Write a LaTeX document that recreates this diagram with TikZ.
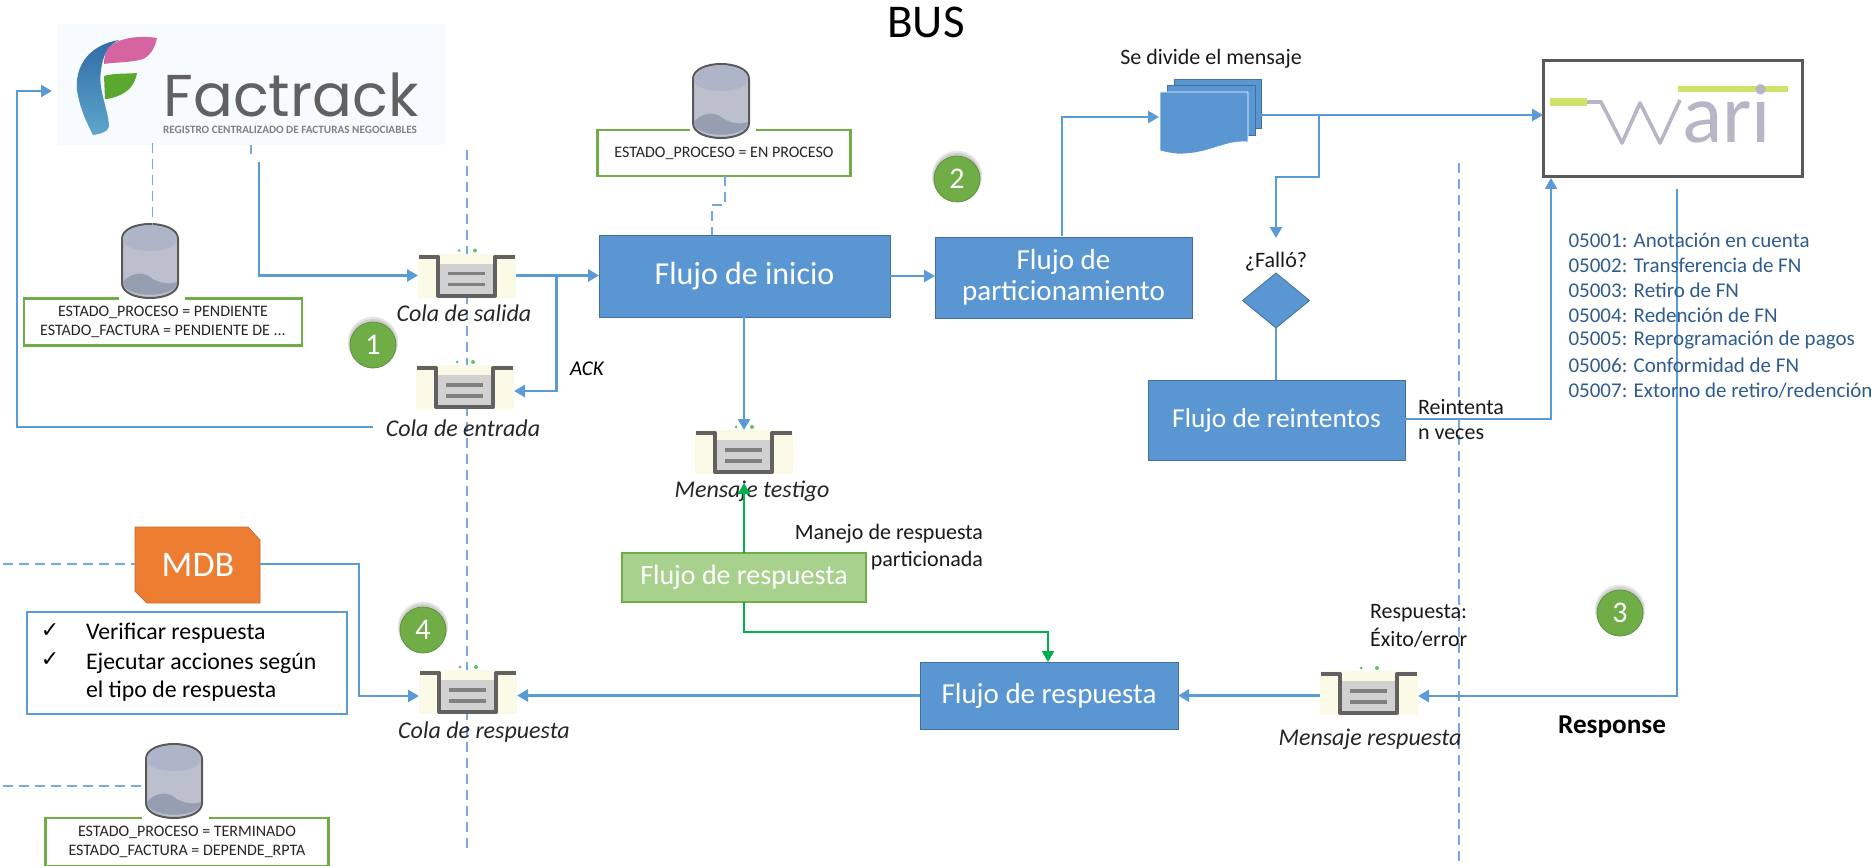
\documentclass[tikz,border=0pt]{standalone}
\usepackage{fontspec}
\setmainfont{Carlito}
\newfontfamily\logofont{Poppins}
\newfontfamily\symfont{DejaVu Sans}
\usetikzlibrary{arrows.meta,shapes.geometric,calc}
\definecolor{flowblue}{HTML}{5B9BD5}
\definecolor{boxblue}{HTML}{5A97D2}
\definecolor{edgeblue}{HTML}{41719C}
\definecolor{stategreen}{HTML}{70AD47}
\definecolor{arrowgreen}{HTML}{00B050}
\definecolor{softgreen}{HTML}{A9D18E}
\definecolor{mdborange}{HTML}{ED7D31}
\definecolor{codeblue}{HTML}{2F5C8F}
\definecolor{creamq}{HTML}{FBFAE6}
\definecolor{logoback}{HTML}{F8FBFE}
\definecolor{lilac}{HTML}{B9B5C6}
\definecolor{limebar}{HTML}{CFE36A}
\definecolor{dbbody}{HTML}{BCC0CC}
\definecolor{dbtop}{HTML}{AEB5C8}
\definecolor{dbwave}{HTML}{969EB2}
\definecolor{logopink}{HTML}{D565A0}
\definecolor{logogreen}{HTML}{5BA82E}
\definecolor{logoblueA}{HTML}{2E6CA8}
\definecolor{logoblueB}{HTML}{5FA6CC}
\tikzset{
  x=0.5pt,y=-0.5pt,
  every node/.style={inner sep=0pt,outer sep=0pt,font=\fontsize{10}{12}\selectfont},
  flow/.style={draw=flowblue,line width=1.35pt,-{Triangle[length=5.5pt,width=6pt]}},
  flowplain/.style={draw=flowblue,line width=1.35pt},
  greenflow/.style={draw=arrowgreen,line width=1.15pt,-{Triangle[length=5.5pt,width=6pt]}},
  dashline/.style={draw=flowblue!85,line width=0.8pt,dash pattern=on 5pt off 3pt},
  flowbox/.style={fill=boxblue,draw=edgeblue,line width=0.5pt,text=white,align=center,font=\fontsize{14.5}{16}\selectfont},
  statebox/.style={draw=stategreen,line width=1.3pt,fill=white},
  statetext/.style={align=center,font=\fontsize{8}{9.6}\selectfont,text=black!85},
  qlabel/.style={font=\fontsize{12}{14}\selectfont\itshape,text=black!85},
  plainlabel/.style={font=\fontsize{11}{13}\selectfont,text=black!90},
  codeline/.style={anchor=west,font=\fontsize{10.5}{13}\selectfont,text=codeblue},
  stepmark/.style={circle,fill=stategreen,draw=stategreen!85!black,line width=0.4pt,minimum size=23pt,text=white,font=\fontsize{15}{18}\selectfont},
  queuenode/.style={fill=creamq,minimum width=49pt,minimum height=22pt},
  dbnode/.style={minimum width=28.5pt,minimum height=36pt},
  queueicon/.pic={
    \fill[green!60!black!60] (-8,-25) circle (1.5) (8,-25) circle (2);
    \fill[black!18] (-27,-12) rectangle (27,20);
    \draw[black!62,line width=2pt,line join=round] (-48,-19) -- (-29,-19) -- (-29,20) -- (28,20) -- (28,-19) -- (48,-19);
    \draw[black!50,line width=1.6pt] (-19,-2) -- (18,-2) (-19,9) -- (18,9);
  },
  dbicon/.pic={
    \draw[black!65,line width=1pt,fill=dbbody]
      (-28,-22) .. controls (-28,-42) and (28,-42) .. (28,-22) -- (28,22) .. controls (28,42) and (-28,42) .. (-28,22) -- cycle;
    \fill[dbtop] (-27,-22) .. controls (-27,-40) and (27,-40) .. (27,-22) .. controls (27,-6) and (-27,-6) .. (-27,-22) -- cycle;
    \fill[dbwave] (-27,21) .. controls (-20,12) and (-8,10) .. (0,16) .. controls (8,22) and (18,24) .. (27,21) .. controls (27,38) and (-27,38) .. (-27,21) -- cycle;
  },
}
\begin{document}
\begin{tikzpicture}
\useasboundingbox (0,0) rectangle (1871,866);
% dashed guide lines (behind everything)
\coordinate (g1top) at (467,150); \coordinate (g1bot) at (467,852);
\coordinate (g2top) at (1459,163); \coordinate (g2bot) at (1459,863);
\draw[dashline] (g1top) -- (g1bot);
\draw[dashline] (g2top) -- (g2bot);

% title
\node[font=\fontsize{23.5}{28}\selectfont] (title) at (926,22) {BUS};

% Factrack logo
\node[fill=logoback,minimum width=194pt,minimum height=60.5pt] (factrack) at (251,85) {};
\shade[top color=logoblueA,bottom color=logoblueB]
  (119,40) .. controls (85,46) and (75,70) .. (77,90) .. controls (80,110) and (88,125) .. (93,135) .. controls (100,134) and (109,132) .. (109,125) .. controls (107,105) and (98,90) .. (101,70) .. controls (103,55) and (108,45) .. (119,40) -- cycle;
\fill[logopink] (109,47) .. controls (118,38) and (140,35) .. (157,38) .. controls (155,48) and (150,56) .. (143,59) .. controls (130,63) and (115,62) .. (104,64) .. controls (104,56) and (106,52) .. (109,47) -- cycle;
\fill[logogreen] (104,76) .. controls (115,73) and (125,74) .. (137,73) .. controls (135,85) and (128,92) .. (118,96) .. controls (113,98) and (108,99) .. (105,99) -- cycle;
\node[font=\logofont\fontsize{29.5}{31}\selectfont,text=black!62] (facttext) at (291,95) {Factrack};
\node[font=\fontsize{5.6}{6}\selectfont\bfseries,text=black!50] (factsub) at (290,130) {REGISTRO CENTRALIZADO DE FACTURAS NEGOCIABLES};

% state boxes and cylinders
\node[statebox,statetext,minimum width=139pt,minimum height=23.5pt] (st1) at (163,322) {ESTADO\_PROCESO = PENDIENTE\\ESTADO\_FACTURA = PENDIENTE DE ...};
\fill[white] (119,296) rectangle (185,300);
\node[dbnode] (db1) at (150,261) {}; \pic at (db1) {dbicon};
\node[statebox,statetext,minimum width=126.5pt,minimum height=23pt] (st2) at (724,153) {ESTADO\_PROCESO = EN PROCESO};
\fill[white] (690,128) rectangle (756,132);
\node[dbnode] (db2) at (721,101) {}; \pic at (db2) {dbicon};
\node[statebox,statetext,minimum width=141.5pt,minimum height=24pt] (st3) at (187,842) {ESTADO\_PROCESO = TERMINADO\\ESTADO\_FACTURA = DEPENDE\_RPTA};
\fill[white] (142,816) rectangle (209,820);
\node[dbnode] (db3) at (174,781) {}; \pic at (db3) {dbicon};
\coordinate (ld1) at (152.5,143);
\draw[dashline] (ld1) -- (db1.north -| ld1);
\coordinate (ld2) at (251,145); \coordinate (ld2b) at (251,154);
\draw[dashline] (ld2) -- (ld2b);
\coordinate (left3) at (3,786);
\draw[dashline] (left3) -- (db3.west |- left3);
\coordinate (st2m) at (725,205); \coordinate (st2n) at (712,205); \coordinate (st2in) at (712,235);
\draw[dashline] (st2.south -| st2m) -- (st2m) -- (st2n) -- (st2in);

% queues
\node[queuenode] (q1) at (467,275.5) {}; \pic at (q1) {queueicon};
\node[queuenode] (q2) at (465,387) {}; \pic at (q2) {queueicon};
\node[queuenode] (q3) at (744,452) {}; \pic at (q3) {queueicon};
\node[queuenode] (q4) at (468,692) {}; \pic at (q4) {queueicon};
\node[queuenode] (q5) at (1369,693) {}; \pic at (q5) {queueicon};
\node[qlabel] (q1l) at (464,313) {Cola de salida};
\node[qlabel] (q2l) at (463,428) {Cola de entrada};
\node[qlabel] (q3l) at (752,491) {Mensaje testigo};
\node[qlabel] (q4l) at (484,732) {Cola de respuesta};
\node[qlabel] (q5l) at (1370,739) {Mensaje respuesta};

% flow boxes
\node[flowbox,font=\fontsize{16}{19}\selectfont,minimum width=145.5pt,minimum height=41pt] (inicio) at (744.5,276) {Flujo de inicio};
\node[flowbox,align=center,minimum width=128.5pt,minimum height=40.5pt] (part) at (1063.5,277.5) {Flujo de\\[-0.5pt]particionamiento};
\node[flowbox,font=\fontsize{13.7}{16}\selectfont,minimum width=128.5pt,minimum height=40pt] (reint) at (1276.5,420) {Flujo de reintentos};
\node[flowbox,minimum width=129pt,minimum height=33.5pt] (resp) at (1049,695.5) {Flujo de respuesta};
\node[fill=softgreen,draw=stategreen,line width=1.2pt,text=white,font=\fontsize{14}{17}\selectfont,minimum width=122pt,minimum height=24.5pt] (respg) at (744,577.5) {Flujo de respuesta};
\node[diamond,fill=boxblue,draw=edgeblue,line width=0.4pt,minimum width=33.5pt,minimum height=27.5pt] (dec) at (1276,300.5) {};
\node[plainlabel] (declbl) at (1276,262) {¿Falló?};

% document stack
\node[fill=boxblue,draw=edgeblue,line width=0.4pt,minimum width=43.5pt,minimum height=24.5pt] (docc) at (1217.5,103.5) {};
\node[fill=boxblue,draw=edgeblue,line width=0.4pt,minimum width=44pt,minimum height=25pt] (docb) at (1211,110) {};
\fill[boxblue,draw=white,line width=0.4pt] (1160,92) -- (1248,92) -- (1248,142) .. controls (1225,140) and (1210,154) .. (1180,154) .. controls (1172,154) and (1165,152) .. (1160,151) -- cycle;
\coordinate (docin) at (1159,117);
\coordinate (docout) at (1261,115);
\node[plainlabel] (doclbl) at (1211,59) {Se divide el mensaje};

% wari
\node[draw=black!65,fill=white,line width=1.5pt,minimum width=129.5pt,minimum height=58pt] (wari) at (1672.5,119) {};
\fill[limebar] (1550,98) rectangle (1587,106);
\fill[limebar] (1678,86) rectangle (1788,92);
\draw[lilac,line width=1.8pt,line join=round] (1587,102) -- (1601,102) -- (1622,143) -- (1640,103) -- (1660,143) -- (1680,100);
\node[font=\fontsize{42}{44}\selectfont,text=lilac,anchor=base west] (waritext) at (1682,143) {ari};

% connectors
\coordinate (fout) at (259,162);
\coordinate (left1) at (373,427); \coordinate (left1b) at (17,427); \coordinate (left1c) at (17,91); \coordinate (left1d) at (52,91);
\draw[flow] (left1) -- (left1b) -- (left1c) -- (left1d);
\draw[flow] (fout) |- (q1.west);
\draw[flow] (q1.east) -- (inicio.west |- q1.east);
\coordinate (ackb) at (556.5,275.5);
\draw[flow] (ackb) |- ($(q2.east)+(0,4)$);
\draw[flow] (inicio.east) -- (part.west |- inicio.east);
\draw[flow] (inicio.south -| q3) -- (q3.north);
\coordinate (pout) at (1062,236); \coordinate (pturn) at (1062,117);
\draw[flow] (pout) -- (pturn) -- (docin);
\draw[flow] (docout) -- (wari.west |- docout);
\coordinate (bra) at (1319,115); \coordinate (brb) at (1319,177); \coordinate (brc) at (1276,177); \coordinate (brd) at (1276,238);
\draw[flow] (bra) -- (brb) -- (brc) -- (brd);
\draw[flowplain] (dec.south) -- (dec.south |- reint.north);
\coordinate (ra) at (1405,419); \coordinate (rb) at (1551,419);
\coordinate (rc) at (1551,178);
\draw[flow] (ra) -- (rb) -- (rc);
\coordinate (wa) at (1677,189); \coordinate (wb) at (1677,696);
\draw[flow] (wa) -- (wb) -- (q5.east |- wb);
\draw[flow] (q5.west |- resp.east) -- (resp.east);
\draw[flow] (resp.west) -- (resp.west -| q4.east);
\draw[greenflow] (respg.north) -- (744,483);
\coordinate (gt) at (744,632);
\draw[greenflow] (respg.south) -- (gt) -| (1048,662);

% MDB
\fill[mdborange,draw=mdborange!85!black,line width=0.4pt] (135,527) -- (248,527) -- (260,540) -- (260,603) -- (147,603) -- (135,591) -- cycle;
\node[font=\fontsize{18}{22}\selectfont,text=white] (mdb) at (198,565) {MDB};
\coordinate (mdbout) at (260,564);
\coordinate (left2) at (3,564); \coordinate (mdbin) at (135,564);
\draw[dashline] (left2) -- (mdbin);
\coordinate (mid) at (359,696);
\draw[flow] (mdbout) -| (mid) -- (mid -| q4.west);
\node[draw=flowblue,line width=0.6pt,minimum width=160pt,minimum height=51pt] (checks) at (187,663) {};
\node[font=\symfont\fontsize{11}{13}\selectfont] (c1) at (50,631) {✓};
\node[font=\symfont\fontsize{11}{13}\selectfont] (c2) at (50,660) {✓};
\node[anchor=west,font=\fontsize{11.9}{14}\selectfont] (t1) at (86,633) {Verificar respuesta};
\node[anchor=west,font=\fontsize{11.9}{14}\selectfont] (t2) at (86,663) {Ejecutar acciones según};
\node[anchor=west,font=\fontsize{11.9}{14}\selectfont] (t3) at (86,691) {el tipo de respuesta};

% step marks
\foreach \nm/\cx/\cy/\lbl in {s1/373/345/1,s2/957/179/2,s3/1620/613/3,s4/423/630/4}{
  \fill[black,opacity=0.10] (\cx,\cy-3) circle (12.6pt);
  \fill[black,opacity=0.10] (\cx,\cy-2) circle (12pt);
  \node[stepmark] (\nm) at (\cx,\cy) {\lbl};
}

% labels
\node[font=\fontsize{10.5}{13}\selectfont\itshape] (ack) at (587,369) {ACK};
\node[plainlabel,align=right,anchor=north east,font=\fontsize{11}{13.5}\selectfont] (manejo) at (983,524) {Manejo de respuesta\\particionada};
\node[plainlabel,anchor=west] (re1) at (1418,407) {Reintenta};
\node[plainlabel,anchor=west] (re2) at (1418,434) {n veces};
\node[plainlabel,anchor=west] (rs1) at (1370,613) {Respuesta:};
\node[plainlabel,anchor=west] (rs2) at (1370,638) {Éxito/error};
\node[font=\fontsize{13.6}{16}\selectfont\bfseries] (response) at (1612,727) {Response};
\node[codeline] (k1) at (1568.5,240) {05001: Anotación en cuenta};
\node[codeline] (k2) at (1568.5,265) {05002: Transferencia de FN};
\node[codeline] (k3) at (1568.5,290) {05003: Retiro de FN};
\node[codeline] (k4) at (1568.5,315) {05004: Redención de FN};
\node[codeline] (k5) at (1568.5,340) {05005: Reprogramación de pagos};
\node[codeline] (k6) at (1568.5,365) {05006: Conformidad de FN};
\node[codeline] (k7) at (1568.5,391) {05007: Extorno de retiro/redención};
\end{tikzpicture}
\end{document}
